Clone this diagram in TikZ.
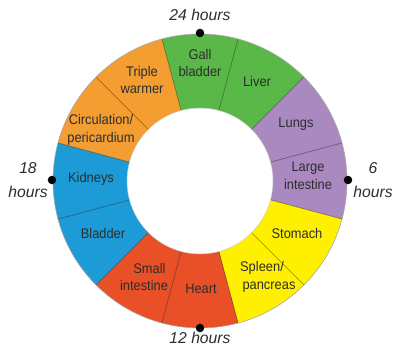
\documentclass[tikz,border=0pt]{standalone}
\usepackage{fontspec}
\setmainfont[FakeStretch=0.92]{Liberation Sans}
\newfontfamily\hourfont{Liberation Sans}
\definecolor{segorange}{RGB}{244,158,50}
\definecolor{seggreen}{RGB}{90,184,72}
\definecolor{segpurple}{RGB}{170,137,192}
\definecolor{segblue}{RGB}{28,155,215}
\definecolor{segred}{RGB}{233,80,40}
\definecolor{segyellow}{RGB}{255,240,0}
\definecolor{txt}{RGB}{45,45,45}
\tikzset{
  organ/.style={align=center, text=txt, font=\fontsize{14}{17.5}\selectfont, inner sep=0pt},
  hourlbl/.style={align=center, text=txt, font=\hourfont\itshape\fontsize{15.7}{24}\selectfont, inner sep=0pt},
  hourdot/.style={circle, fill=black, minimum size=8.5pt, inner sep=0pt},
  divider/.style={draw=black, draw opacity=0.45, line width=0.6pt},
  rim/.style={draw=black!35, line width=0.6pt}
}
\begin{document}
\begin{tikzpicture}[x=1pt,y=1pt]
\useasboundingbox (-200,-172) rectangle (197,181);
% segments
\foreach \a/\c in {75/seggreen,45/seggreen,15/segpurple,-15/segpurple,-45/segyellow,-75/segyellow,-105/segred,-135/segred,-165/segblue,165/segblue,135/segorange,105/segorange}{
  \fill[\c] (\a:147pt) arc[start angle=\a, delta angle=30, radius=147pt]
    -- ({\a+30}:73pt) arc[start angle={\a+30}, delta angle=-30, radius=73pt] -- cycle;
}
\foreach \a in {15,45,75,105,135,165,195,225,255,285,315,345}{
  \draw[divider] (\a:73pt) -- (\a:147pt);
}
\draw[rim] (0,0) circle[radius=147pt];
\draw[draw=black!20, line width=0.4pt] (0,0) circle[radius=73pt];
% organ labels
\node[organ] (gall) at (0,118) {Gall\\bladder};
\node[organ] (liver) at (57,100) {Liver};
\node[organ] (lungs) at (96,57) {Lungs};
\node[organ] (large) at (108,5) {Large\\intestine};
\node[organ] (stomach) at (97,-52) {Stomach};
\node[organ] (spleen) at (62,-96) {Spleen/\\\hspace*{14pt}pancreas};
\node[organ] (heart) at (1,-108) {Heart};
\node[organ] (small) at (-56,-96) {\hspace*{11pt}Small\\intestine};
\node[organ] (bladder) at (-97,-52) {Bladder};
\node[organ] (kidneys) at (-109,2) {Kidneys};
\node[organ] (circ) at (-99,51) {Circulation/\\pericardium};
\node[organ] (triple) at (-58,101) {Triple\\warmer};
% hour dots and labels
\node[hourdot] (d24) at (0,148) {};
\node[hourdot] (d12) at (0,-147) {};
\node[hourdot] (d18) at (-148,1) {};
\node[hourdot] (d6) at (148,1) {};
\node[hourlbl] (h24) at (0,166) {24 hours};
\node[hourlbl] (h12) at (0,-157) {12 hours};
\node[hourlbl] (h18) at (-172,1) {18\\hours};
\node[hourlbl] (h6) at (173,1) {6\\hours};
\end{tikzpicture}
\end{document}
